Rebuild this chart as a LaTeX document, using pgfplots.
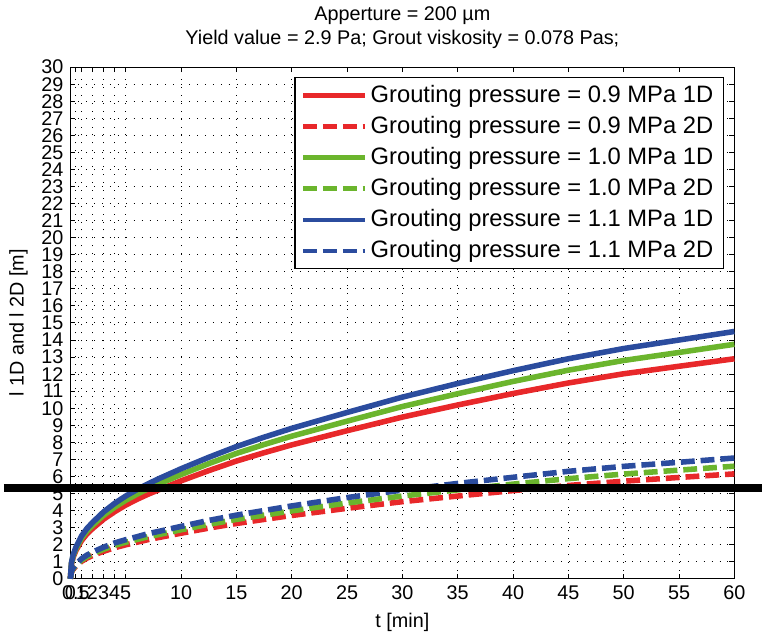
\documentclass[border=0pt]{standalone}
\usepackage{fontspec}
\setmainfont{Liberation Sans}
\usepackage{pgfplots}
\usepackage{pgfplotstable}
\pgfplotsset{compat=1.18}
\definecolor{cred}{RGB}{232,40,42}
\definecolor{cgreen}{RGB}{107,181,45}
\definecolor{cblue}{RGB}{43,76,158}
\pgfplotstableread{
t    r1    r2    g1    g2    b1    b2
0    0     0     0     0     0     0
0.1  0.85  0.38  0.90  0.41  0.95  0.44
0.25 1.25  0.55  1.33  0.59  1.40  0.63
0.5  1.65  0.74  1.75  0.80  1.85  0.85
1    2.23  1.02  2.37  1.09  2.50  1.17
1.5  2.63  1.21  2.80  1.30  2.95  1.39
2    2.94  1.36  3.13  1.46  3.30  1.56
3    3.49  1.61  3.72  1.73  3.92  1.85
4    3.93  1.82  4.19  1.96  4.42  2.10
5    4.32  1.99  4.60  2.14  4.85  2.29
6    4.65  2.14  4.95  2.30  5.22  2.46
7    4.95  2.29  5.27  2.46  5.56  2.64
8    5.22  2.42  5.56  2.59  5.87  2.78
10   5.74  2.67  6.11  2.87  6.45  3.07
12.5 6.34  2.97  6.75  3.19  7.12  3.42
15   6.90  3.24  7.35  3.48  7.75  3.73
17.5 7.39  3.48  7.87  3.73  8.30  4.00
20   7.85  3.71  8.36  3.98  8.82  4.27
25   8.68  4.13  9.24  4.44  9.75  4.76
30   9.48  4.52  10.10 4.85  10.65 5.20
35   10.19 4.85  10.85 5.21  11.45 5.59
40   10.86 5.17  11.57 5.55  12.20 5.95
45   11.48 5.47  12.23 5.87  12.90 6.30
50   12.02 5.72  12.80 6.14  13.50 6.59
55   12.46 5.94  13.27 6.37  14.00 6.83
60   12.90 6.15  13.75 6.60  14.50 7.08
}\data
\begin{document}
\begin{tikzpicture}
\begin{axis}[
  scale only axis, width=335.5pt, height=258.5pt,
  xmin=0, xmax=60, ymin=0, ymax=30,
  xtick={0,0.5,1,2,3,4,5,10,15,20,25,30,35,40,45,50,55,60},
  xticklabels={0,0.5,1,2,3,4,5,10,15,20,25,30,35,40,45,50,55,60},
  ytick={0,1,...,30},
  tick align=inside, major tick length=2.5pt,
  tick style={black, line width=0.5pt},
  grid=major,
  major grid style={black, line width=0.5pt, dash pattern=on 0.5pt off 3.5pt},
  axis line style={line width=0.6pt},
  ticklabel style={font=\fontsize{10}{12}\selectfont},
  /pgf/number format/assume math mode=true,
  xlabel={t [min]}, ylabel={l 1D and l 2D [m]},
  label style={font=\fontsize{10}{12}\selectfont},
  title={Apperture = 200 µm\\Yield value = 2.9 Pa; Grout viskosity = 0.078 Pas;},
  title style={align=center, font=\fontsize{10}{12}\selectfont},
  legend style={at={(0.984,0.981)}, anchor=north east, draw=black, line width=0.6pt,
    font=\fontsize{12}{14}\selectfont, inner xsep=3pt, inner ysep=2pt, row sep=1.5pt},
  legend cell align=left,
  legend image code/.code={\draw[#1, line width=2.2pt] (0pt,0pt) -- (31pt,0pt);},
  clip=false,
  every axis plot/.append style={line width=2.8pt},
]
\addplot[cred] table[x=t,y=r1] {\data};
\addlegendentry{Grouting pressure = 0.9 MPa 1D}
\addplot[cred, dash pattern=on 7pt off 3pt] table[x=t,y=r2] {\data};
\addlegendentry{Grouting pressure = 0.9 MPa 2D}
\addplot[cgreen] table[x=t,y=g1] {\data};
\addlegendentry{Grouting pressure = 1.0 MPa 1D}
\addplot[cgreen, dash pattern=on 7pt off 3pt] table[x=t,y=g2] {\data};
\addlegendentry{Grouting pressure = 1.0 MPa 2D}
\addplot[cblue] table[x=t,y=b1] {\data};
\addlegendentry{Grouting pressure = 1.1 MPa 1D}
\addplot[cblue, dash pattern=on 7pt off 3pt] table[x=t,y=b2] {\data};
\addlegendentry{Grouting pressure = 1.1 MPa 2D}
\addplot[black, line width=4pt, forget plot] coordinates {(-6,5.3) (62.5,5.3)};
\end{axis}
\end{tikzpicture}
\end{document}
